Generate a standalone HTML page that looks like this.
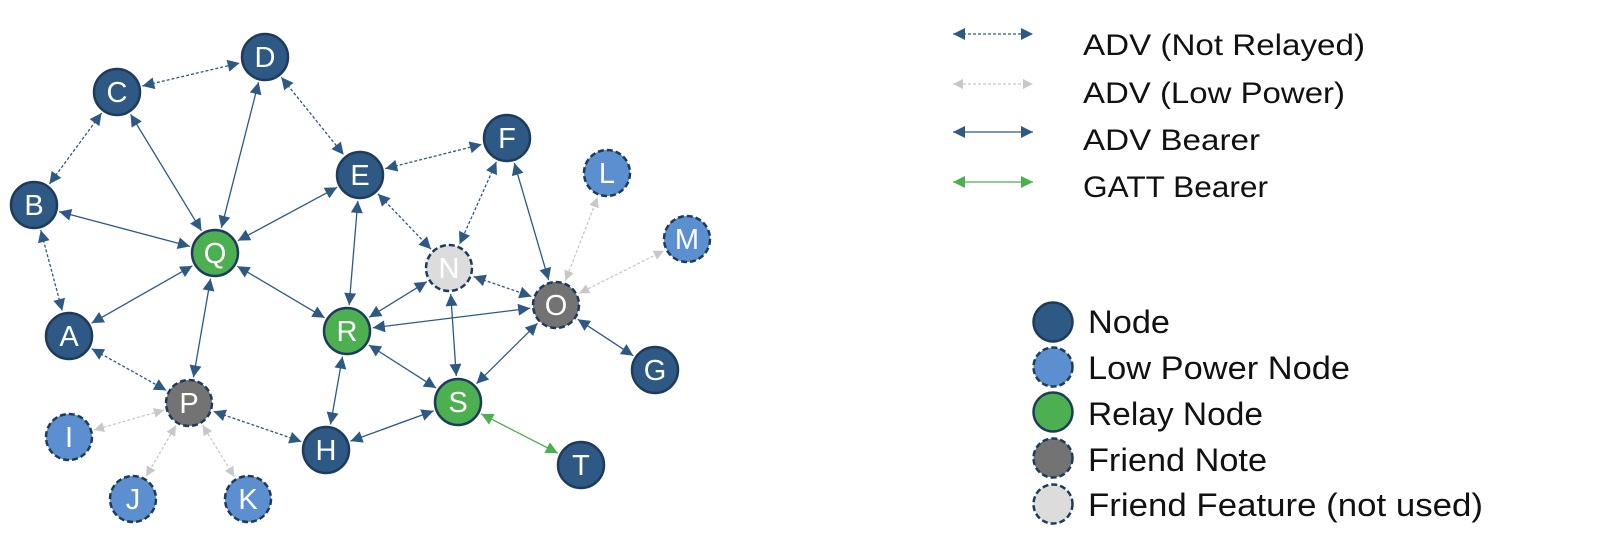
<!DOCTYPE html>
<html><head><meta charset="utf-8"><style>
body{margin:0;background:#fff;width:1599px;height:549px;overflow:hidden;font-family:"Liberation Sans",sans-serif}
svg{position:absolute;left:0;top:0}
</style></head><body>
<svg id="s" width="1599" height="549" viewBox="0 0 1599 549" font-family="Liberation Sans, sans-serif">
<defs>
<marker id="md" viewBox="0 0 10 10" refX="10" refY="5" markerWidth="14" markerHeight="12" markerUnits="userSpaceOnUse" orient="auto-start-reverse"><path d="M0,0L10,5L0,10z" fill="#2e5984"/></marker>
<marker id="mg" viewBox="0 0 10 10" refX="10" refY="5" markerWidth="12" markerHeight="10" markerUnits="userSpaceOnUse" orient="auto-start-reverse"><path d="M0,0L10,5L0,10z" fill="#c8c8c8"/></marker>
<marker id="mn" viewBox="0 0 10 10" refX="10" refY="5" markerWidth="14" markerHeight="12" markerUnits="userSpaceOnUse" orient="auto-start-reverse"><path d="M0,0L10,5L0,10z" fill="#4caf50"/></marker>
</defs>
<g id="edges"></g>
<g id="nodes" font-size="29" text-anchor="middle"></g>
<line x1="953" y1="34" x2="1033" y2="34" stroke="#2e5984" stroke-width="1.3" stroke-dasharray="3,2" marker-start="url(#md)" marker-end="url(#md)"/>
<line x1="953" y1="84" x2="1033" y2="84" stroke="#c8c8c8" stroke-width="1.3" stroke-dasharray="3,2" marker-start="url(#mg)" marker-end="url(#mg)"/>
<line x1="953" y1="132" x2="1033" y2="132" stroke="#2e5984" stroke-width="1.3" marker-start="url(#md)" marker-end="url(#md)"/>
<line x1="953" y1="182" x2="1033" y2="182" stroke="#4caf50" stroke-width="1.3" marker-start="url(#mn)" marker-end="url(#mn)"/>
<g font-size="30" fill="#111">
<text x="1083" y="55" textLength="282" lengthAdjust="spacingAndGlyphs">ADV (Not Relayed)</text>
<text x="1083" y="103" textLength="262" lengthAdjust="spacingAndGlyphs">ADV (Low Power)</text>
<text x="1083" y="150" textLength="177" lengthAdjust="spacingAndGlyphs">ADV Bearer</text>
<text x="1083" y="197" textLength="185" lengthAdjust="spacingAndGlyphs">GATT Bearer</text>
</g>
<g stroke="#1f3b5c" stroke-width="2.5">
<circle cx="1053" cy="322" r="19.5" fill="#2e5984"/>
<circle cx="1053" cy="367" r="19.5" fill="#5b8fd0" stroke-dasharray="6,3"/>
<circle cx="1053" cy="412" r="19.5" fill="#4caf50"/>
<circle cx="1053" cy="458" r="19.5" fill="#737373" stroke-dasharray="6,3"/>
<circle cx="1053" cy="504" r="19.5" fill="#dcdcdc" stroke-dasharray="6,3"/>
</g>
<g font-size="32" fill="#111">
<text x="1088" y="333" textLength="82" lengthAdjust="spacingAndGlyphs">Node</text>
<text x="1088" y="379" textLength="262" lengthAdjust="spacingAndGlyphs">Low Power Node</text>
<text x="1088" y="425" textLength="175" lengthAdjust="spacingAndGlyphs">Relay Node</text>
<text x="1088" y="471" textLength="179" lengthAdjust="spacingAndGlyphs">Friend Note</text>
<text x="1088" y="516" textLength="395" lengthAdjust="spacingAndGlyphs">Friend Feature (not used)</text>
</g>
</svg>
<script>
var N={C:[117,92,'d'],D:[265,57,'d'],B:[34,205,'d'],E:[360,175,'d'],F:[507,138,'d'],L:[607,173,'l'],M:[687,239,'l'],Q:[215,253,'g'],N:[449,268,'x'],O:[556,305,'p'],A:[69,336,'d'],R:[347,331,'g'],G:[655,370,'d'],P:[189,403,'p'],S:[458,402,'g'],I:[69,437,'l'],H:[326,450,'d'],T:[581,465,'d'],J:[133,499,'l'],K:[248,499,'l']};
var E=[['C','D',1],['C','B',1],['D','E',1],['B','A',1],['E','N',1],['F','N',1],['N','O',1],['A','P',1],['P','H',1],
['O','L',2],['O','M',2],['P','I',2],['P','J',2],['P','K',2],
['C','Q',0],['D','Q',0],['B','Q',0],['E','Q',0],['A','Q',0],['Q','P',0],['Q','R',0],['E','R',0],['R','N',0],['R','O',0],['R','S',0],['R','H',0],['N','S',0],['E','F',1],['F','O',0],['O','S',0],['O','G',0],['H','S',0],['S','T',3]];
var ns='http://www.w3.org/2000/svg',eg=document.getElementById('edges');
E.forEach(function(e){var a=N[e[0]],b=N[e[1]],dx=b[0]-a[0],dy=b[1]-a[1],d=Math.hypot(dx,dy),r=26,ux=dx/d,uy=dy/d;
var l=document.createElementNS(ns,'line');l.setAttribute('x1',a[0]+ux*r);l.setAttribute('y1',a[1]+uy*r);l.setAttribute('x2',b[0]-ux*r);l.setAttribute('y2',b[1]-uy*r);
var col=e[2]==2?'#c8c8c8':e[2]==3?'#4caf50':'#2e5984',m=e[2]==2?'mg':e[2]==3?'mn':'md';
l.setAttribute('stroke',col);l.setAttribute('stroke-width','1.3');if(e[2]==1||e[2]==2)l.setAttribute('stroke-dasharray','3,2');
l.setAttribute('marker-start','url(#'+m+')');l.setAttribute('marker-end','url(#'+m+')');eg.appendChild(l);});
var fills={d:'#2e5984',l:'#5b8fd0',g:'#4caf50',p:'#737373',x:'#dcdcdc'};
var ng=document.getElementById('nodes');
for(var k in N){var n=N[k],c=document.createElementNS(ns,'circle');c.setAttribute('cx',n[0]);c.setAttribute('cy',n[1]);c.setAttribute('r',23);c.setAttribute('fill',fills[n[2]]);c.setAttribute('stroke','#1f3b5c');c.setAttribute('stroke-width','2.5');
if(n[2]=='l'||n[2]=='p'||n[2]=='x')c.setAttribute('stroke-dasharray','6,3');ng.appendChild(c);}
</script>
<svg width="0" height="0" style="position:absolute"><g font-size="29" fill="#fff" text-anchor="middle">
<text id="lbl_C">C</text><text id="lbl_D">D</text><text id="lbl_B">B</text><text id="lbl_E">E</text><text id="lbl_F">F</text><text id="lbl_L">L</text><text id="lbl_M">M</text><text id="lbl_Q">Q</text><text id="lbl_N">N</text><text id="lbl_O">O</text><text id="lbl_A">A</text><text id="lbl_R">R</text><text id="lbl_G">G</text><text id="lbl_P">P</text><text id="lbl_S">S</text><text id="lbl_I">I</text><text id="lbl_H">H</text><text id="lbl_T">T</text><text id="lbl_J">J</text><text id="lbl_K">K</text>
</g></svg>
<script>
(function(){var ng=document.getElementById('nodes');for(var k in N){var n=N[k],t=document.getElementById('lbl_'+k);if(t){t.setAttribute('x',n[0]);t.setAttribute('y',n[1]+10);t.setAttribute('fill','#fff');ng.appendChild(t);}}})();
</script>
</body></html>
